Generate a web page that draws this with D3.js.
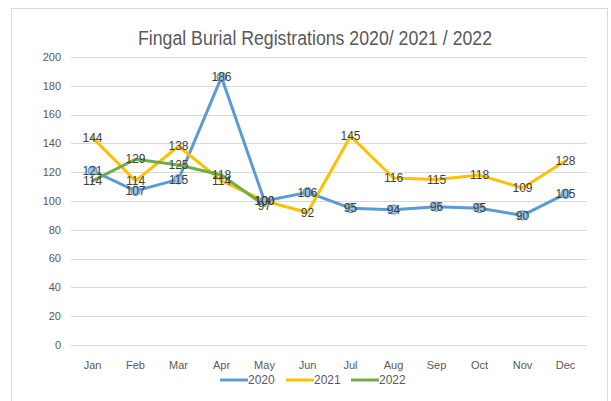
<!DOCTYPE html>
<html lang="en">
<head>
<meta charset="UTF-8">
<title>Fingal Burial Registrations</title>
<script src="https://cdn.jsdelivr.net/npm/d3@7"></script>
<style>
  body { margin: 0; background: #fff; }
  text { font-family: "Liberation Sans Narrow", "Liberation Sans", Arial, sans-serif; }
</style>
</head>
<body>
<script>
    const months = ['Jan','Feb','Mar','Apr','May','Jun','Jul','Aug','Sep','Oct','Nov','Dec'];
    const years = ['2020', '2021', '2022'];
    const regs2020 = [121, 107, 115, 186, 100, 106, 95, 94, 96, 95, 90, 105];
    const regs2021 = [144, 114, 138, 114, 100, 92, 145, 116, 115, 118, 109, 128];
    const regs2022 = [114, 129, 125, 118, 97];
    const yTicks = [0, 20, 40, 60, 80, 100, 120, 140, 160, 180, 200];
    const colors = ['#5b9bd5', '#ffc000', '#70ad47'];

    const W = 611, H = 401;
    const svg = d3.select('body').append('svg')
        .attr('width', W).attr('height', H);

    // chart frame
    svg.append('rect')
        .attr('x', 11.5).attr('y', 8.5)
        .attr('width', 596).attr('height', 400)
        .attr('fill', '#fff').attr('stroke', '#d9d9d9');

    svg.append('text')
        .attr('x', 315).attr('y', 45)
        .attr('text-anchor', 'middle')
        .attr('font-size', 20).attr('fill', '#595959')
        .attr('textLength', 354).attr('lengthAdjust', 'spacingAndGlyphs')
        .text('Fingal Burial Registrations 2020/ 2021 / 2022');

    const x = d3.scaleBand().domain(months).range([71, 587]);
    const y = d3.scaleLinear().domain([0, 200]).range([345, 57]);

    // grid + y labels
    const grid = svg.append('g');
    yTicks.forEach(t => {
        grid.append('line')
            .attr('x1', 71).attr('x2', 587)
            .attr('y1', Math.round(y(t)) + 0.5).attr('y2', Math.round(y(t)) + 0.5)
            .attr('stroke', '#d9d9d9').attr('stroke-width', 1);
        grid.append('text')
            .attr('x', 61).attr('y', y(t)).attr('dy', '0.35em')
            .attr('text-anchor', 'end')
            .attr('font-size', 11).attr('fill', '#595959')
            .text(t);
    });

    // x labels
    svg.append('g').selectAll('text').data(months).join('text')
        .attr('x', d => x(d) + x.bandwidth() / 2)
        .attr('y', 365).attr('dy', '0.35em')
        .attr('text-anchor', 'middle')
        .attr('font-size', 11).attr('fill', '#595959')
        .text(d => d);

    const series = [regs2020, regs2021, regs2022];
    const line = d3.line()
        .x((d, i) => x(months[i]) + x.bandwidth() / 2)
        .y(d => y(d));

    series.forEach((vals, k) => {
        svg.append('path')
            .datum(vals)
            .attr('d', line)
            .attr('fill', 'none')
            .attr('stroke', colors[k])
            .attr('stroke-width', 3)
            .attr('stroke-linejoin', 'round')
            .attr('stroke-linecap', 'round');
    });

    // markers for 2020
    svg.append('g').selectAll('circle').data(regs2020).join('circle')
        .attr('cx', (d, i) => x(months[i]) + x.bandwidth() / 2)
        .attr('cy', d => y(d))
        .attr('r', 4.5)
        .attr('fill', '#9dc3e6')
        .attr('stroke', '#5b9bd5')
        .attr('stroke-width', 1.2);

    // data labels
    series.forEach(vals => {
        svg.append('g').selectAll('text').data(vals).join('text')
            .attr('x', (d, i) => x(months[i]) + x.bandwidth() / 2)
            .attr('y', d => y(d)).attr('dy', '0.35em')
            .attr('text-anchor', 'middle')
            .attr('font-size', 12).attr('fill', '#404040')
            .text(d => d);
    });

    // legend
    const legendX = [220, 286, 351];
    const lg = svg.append('g');
    years.forEach((yr, k) => {
        lg.append('line')
            .attr('x1', legendX[k]).attr('x2', legendX[k] + 28)
            .attr('y1', 380).attr('y2', 380)
            .attr('stroke', colors[k]).attr('stroke-width', 3);
        lg.append('text')
            .attr('x', legendX[k] + 28).attr('y', 380).attr('dy', '0.35em')
            .attr('font-size', 12).attr('fill', '#595959')
            .text(yr);
    });
</script>
</body>
</html>
